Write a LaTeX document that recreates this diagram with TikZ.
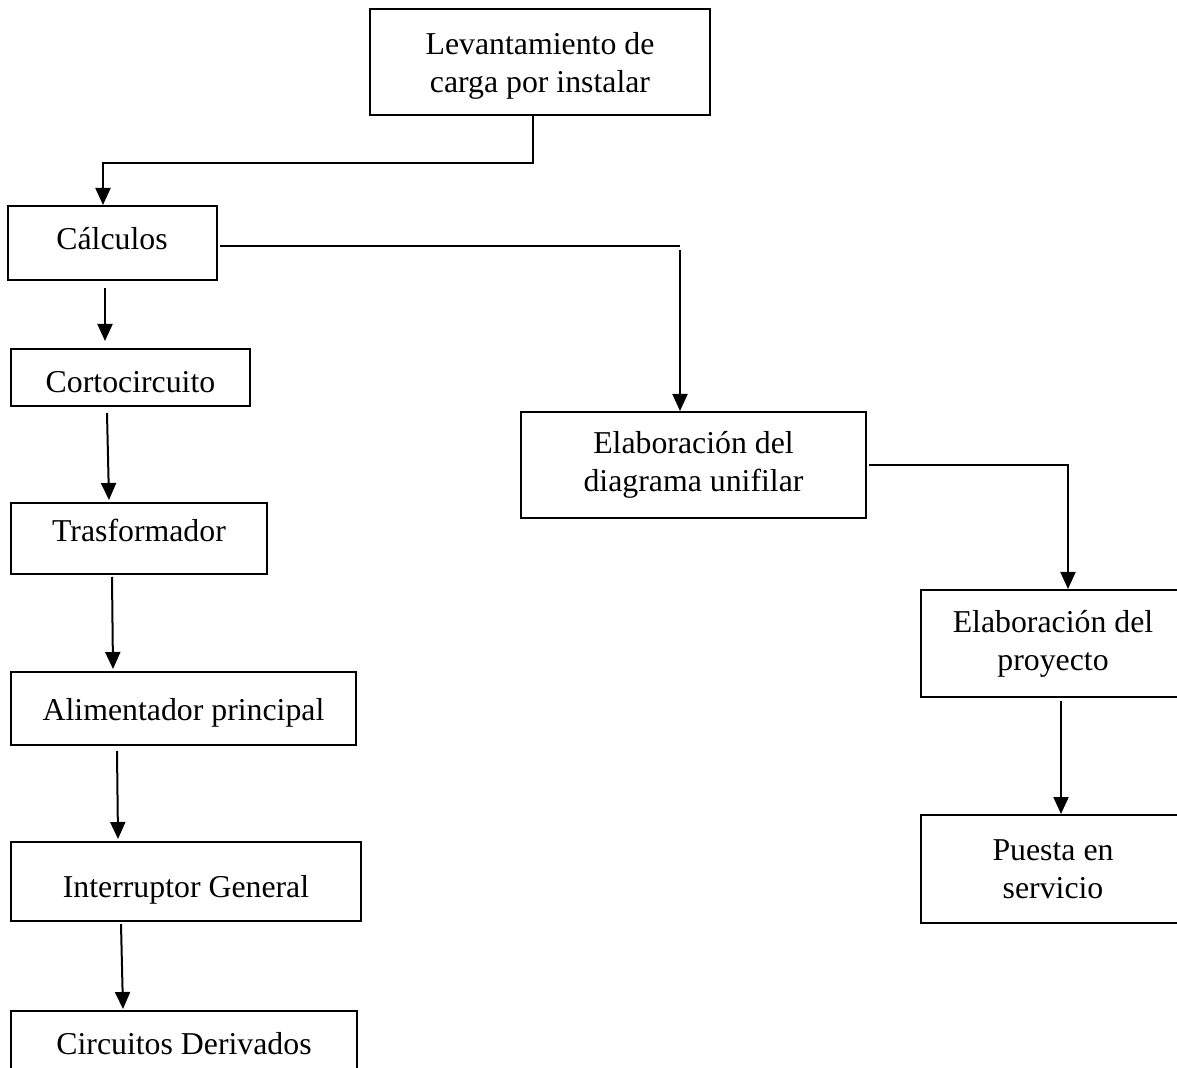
\documentclass[tikz,border=0pt]{standalone}
\usepackage{fontspec}
\setmainfont{Liberation Serif}
\usetikzlibrary{arrows.meta}
\begin{document}
\begin{tikzpicture}[x=0.5pt,y=-0.5pt,
  box/.style={draw, line width=1pt, inner sep=0pt, align=center,
    font=\fontsize{15.9}{19}\selectfont},
  link/.style={line width=1pt},
  flow/.style={line width=1pt, -{Triangle[width=7.5pt,length=8.5pt]}}]
\clip (0,0) rectangle (1177,1068);
\fill[white] (0,0) rectangle (1177,1068);

% boxes
\node[box, minimum width=170pt, minimum height=53pt, text depth=0pt] (lev) at (540,62.5) {Levantamiento de\\carga por instalar};
\node[box, minimum width=104.5pt, minimum height=37pt, text depth=5pt] (calc) at (112,243) {Cálculos};
\node[box, minimum width=119.5pt, minimum height=28.5pt, text height=15pt] (corto) at (130.5,377.5) {Cortocircuito};
\node[box, minimum width=128pt, minimum height=35.5pt, text depth=8pt] (trasf) at (139,538.5) {Trasformador};
\node[box, minimum width=172.5pt, minimum height=36.5pt, text height=15pt] (alim) at (183.5,708.5) {Alimentador principal};
\node[box, minimum width=175pt, minimum height=39.5pt, text height=19pt] (inter) at (186,881.5) {Interruptor General};
\node[box, minimum width=173pt, minimum height=34.5pt, text depth=2.2pt] (circ) at (184,1045.5) {Circuitos Derivados};
\node[box, minimum width=172.5pt, minimum height=53pt] (elab) at (693.5,465) {Elaboración del\\diagrama unifilar};
\node[box, minimum width=132pt, minimum height=53.5pt] (proy) at (1053,643.5) {Elaboración del\\proyecto};
\node[box, minimum width=132pt, minimum height=54pt] (puesta) at (1053,869) {Puesta en\\servicio};

% connectors
\draw[flow] ([xshift=-3.5pt]lev.south) -- ++(0,47) -| ([xshift=-4.5pt]calc.north);
\draw[flow] ([xshift=-3.5pt,yshift=-3.5pt]calc.south) -- ([xshift=-12.75pt,yshift=3.5pt]corto.north);
\draw[flow] ([xshift=-11.75pt,yshift=-3pt]corto.south) -- ([xshift=-15pt,yshift=1pt]trasf.north);
\draw[flow] ([xshift=-13.5pt,yshift=-1pt]trasf.south) -- ([xshift=-35.25pt,yshift=1pt]alim.north);
\draw[flow] ([xshift=-33.25pt,yshift=-2.5pt]alim.south) -- ([xshift=-34pt,yshift=1pt]inter.north);
\draw[flow] ([xshift=-32.5pt,yshift=-1pt]inter.south) -- ([xshift=-30.5pt,yshift=0.5pt]circ.north);

\coordinate (bend) at (680,246);
\draw[link] ([xshift=1pt]calc.east |- bend) -- (bend);
\draw[flow] ([yshift=-2pt]bend) -- ([xshift=-6.75pt]elab.north);
\draw[flow] ([xshift=1pt]elab.east) -| ([xshift=7.5pt]proy.north);
\draw[flow] ([xshift=4pt,yshift=-1.5pt]proy.south) -- ([xshift=4pt]puesta.north);
\end{tikzpicture}
\end{document}
